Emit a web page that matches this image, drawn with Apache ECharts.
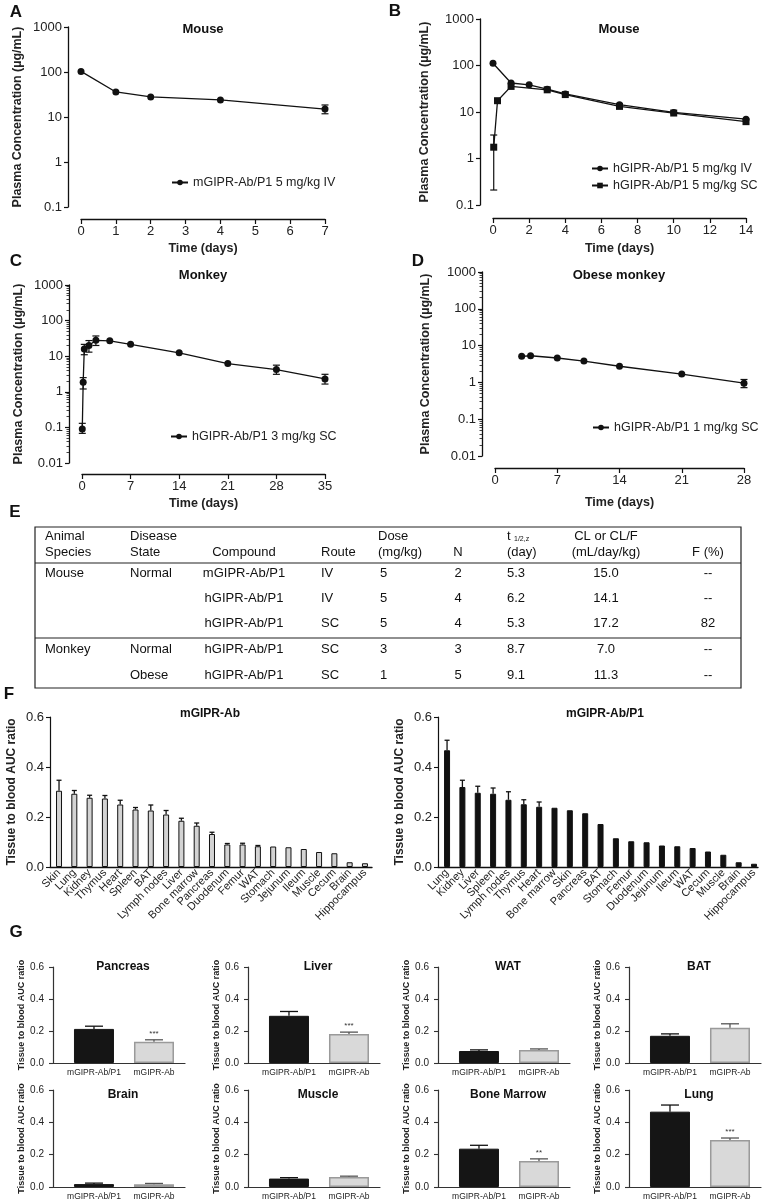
<!DOCTYPE html>
<html lang="en">
<head>
<meta charset="UTF-8">
<title>GIPR antibody PK and tissue distribution</title>
<script src="https://cdn.jsdelivr.net/npm/echarts@6/dist/echarts.min.js"></script>
<style>
    html, body { margin: 0; padding: 0; background: #fff; }
    #main { width: 776px; height: 1204px; }
</style>
</head>
<body>
<div id="main"></div>
<script>
    // ---------- data ----------
    // A  mouse, mGIPR-Ab/P1 5 mg/kg IV
    var aTime = [0, 1, 2, 4, 7];
    var aConc = [103, 36, 28, 24, 15];
    var aLow = [98, 34, 24.5, 22.5, 11.8];
    var aHigh = [108, 38, 32, 25.5, 18.5];

    // B  mouse, hGIPR-Ab/P1 5 mg/kg IV and SC
    var bIvTime = [0, 1, 2, 3, 4, 7, 10, 14];
    var bIvConc = [112, 42, 38.5, 31, 24.4, 14.4, 9.8, 7];
    var bIvLow = [108, 37, 36, 29, 23, 13, 9, 6.3];
    var bIvHigh = [116, 47, 41, 33, 26, 15.8, 10.6, 7.6];
    var bScTime = [0.04, 0.25, 1, 3, 4, 7, 10, 14];
    var bScConc = [1.75, 17.5, 35.5, 30, 23.7, 13.2, 9.5, 6.2];
    var bScLow = [0.21, 15.5, 31, 28, 22.5, 12, 9, 5.5];
    var bScHigh = [3.2, 19.5, 40, 32, 25, 14.4, 10, 7];

    // C  monkey, hGIPR-Ab/P1 3 mg/kg SC
    var cTime = [0.04, 0.17, 0.33, 1, 2, 4, 7, 14, 21, 28, 35];
    var cConc = [0.09, 1.85, 16, 20, 28, 27, 21.5, 12.4, 6.2, 4.2, 2.3];
    var cLow = [0.068, 1.2, 11, 13, 20, 25, 20, 10.4, 5.6, 3.1, 1.65];
    var cHigh = [0.13, 2.5, 21.5, 27.5, 37, 29, 23, 14.7, 6.8, 5.6, 3.1];

    // D  obese monkey, hGIPR-Ab/P1 1 mg/kg SC
    var dTime = [3, 4, 7, 10, 14, 21, 28];
    var dConc = [5.1, 5.3, 4.6, 3.8, 2.75, 1.68, 0.95];
    var dLow = [4.4, 4.5, 4.2, 3.5, 2.5, 1.38, 0.72];
    var dHigh = [5.9, 6.1, 5.0, 4.1, 3.0, 2.05, 1.2];

    // E  PK parameter table
    var tableHead1 = ['Animal', 'Disease', '', '', 'Dose', '', 't', 'CL or CL/F', ''];
    var tableHead2 = ['Species', 'State', 'Compound', 'Route', '(mg/kg)', 'N', '(day)', '(mL/day/kg)', 'F (%)'];
    var tableRows = [
        ['Mouse', 'Normal', 'mGIPR-Ab/P1', 'IV', '5', '2', '5.3', '15.0', '--'],
        ['', '', 'hGIPR-Ab/P1', 'IV', '5', '4', '6.2', '14.1', '--'],
        ['', '', 'hGIPR-Ab/P1', 'SC', '5', '4', '5.3', '17.2', '82'],
        ['Monkey', 'Normal', 'hGIPR-Ab/P1', 'SC', '3', '3', '8.7', '7.0', '--'],
        ['', 'Obese', 'hGIPR-Ab/P1', 'SC', '1', '5', '9.1', '11.3', '--']
    ];

    // F  tissue to blood AUC ratio
    var flTissues = ['Skin', 'Lung', 'Kidney', 'Thymus', 'Heart', 'Spleen', 'BAT', 'Lymph nodes', 'Liver',
        'Bone marrow', 'Pancreas', 'Duodenum', 'Femur', 'WAT', 'Stomach', 'Jejunum', 'Ileum', 'Muscle',
        'Cecum', 'Brain', 'Hippocampus'];
    var flRatio = [0.305, 0.293, 0.277, 0.274, 0.25, 0.23, 0.226, 0.21, 0.185, 0.165, 0.132, 0.09, 0.09,
        0.083, 0.082, 0.079, 0.072, 0.06, 0.055, 0.019, 0.015];
    var flErr = [0.042, 0.013, 0.01, 0.012, 0.017, 0.008, 0.022, 0.016, 0.01, 0.011, 0.007, 0.004, 0.005,
        0.003, 0, 0, 0, 0, 0, 0, 0];
    var frTissues = ['Lung', 'Kidney', 'Liver', 'Spleen', 'Lymph nodes', 'Thymus', 'Heart', 'Bone marrow',
        'Skin', 'Pancreas', 'BAT', 'Stomach', 'Femur', 'Duodenum', 'Jejunum', 'Ileum', 'WAT', 'Cecum',
        'Muscle', 'Brain', 'Hippocampus'];
    var frRatio = [0.467, 0.32, 0.297, 0.293, 0.269, 0.251, 0.241, 0.237, 0.227, 0.215, 0.172, 0.115, 0.103,
        0.099, 0.086, 0.083, 0.076, 0.062, 0.049, 0.019, 0.013];
    var frErr = [0.04, 0.027, 0.026, 0.023, 0.032, 0.018, 0.019, 0, 0, 0, 0, 0, 0, 0, 0, 0, 0, 0, 0, 0, 0];

    // G  per tissue comparison
    var gTissues = ['Pancreas', 'Liver', 'WAT', 'BAT', 'Brain', 'Muscle', 'Bone Marrow', 'Lung'];
    var gGroups = ['mGIPR-Ab/P1', 'mGIPR-Ab'];
    var gP1 = [0.213, 0.295, 0.075, 0.17, 0.018, 0.052, 0.237, 0.466];
    var gP1Err = [0.017, 0.027, 0.007, 0.012, 0.006, 0.006, 0.021, 0.041];
    var gAb = [0.133, 0.182, 0.082, 0.22, 0.017, 0.062, 0.161, 0.29];
    var gAbErr = [0.012, 0.011, 0.006, 0.025, 0.005, 0.005, 0.013, 0.013];
    var gSig = ['***', '***', '', '', '', '', '**', '***'];

    // ---------- helpers ----------
    var FONT = 'Arial, "Liberation Sans", sans-serif';
    var INK = '#111';

    function pairs(xs, ys) {
        return xs.map(function (x, i) { return [x, ys[i]]; });
    }
    function triples(xs, lo, hi) {
        return xs.map(function (x, i) { return [x, lo[i], hi[i]]; });
    }

    // two sided error bar, hidden when it is covered by the marker
    function errBoth(params, api) {
        var x = api.value(0);
        var p1 = api.coord([x, api.value(1)]);
        var p2 = api.coord([x, api.value(2)]);
        if (Math.abs(p1[1] - p2[1]) < 8) return;
        var st = { stroke: INK, lineWidth: 1.2 };
        var c = 3.5;
        return {
            type: 'group',
            children: [
                { type: 'line', shape: { x1: p1[0], y1: p1[1], x2: p2[0], y2: p2[1] }, style: st },
                { type: 'line', shape: { x1: p1[0] - c, y1: p1[1], x2: p1[0] + c, y2: p1[1] }, style: st },
                { type: 'line', shape: { x1: p2[0] - c, y1: p2[1], x2: p2[0] + c, y2: p2[1] }, style: st }
            ]
        };
    }

    // upward error bar for bar charts (GraphPad "above" style)
    function errUp(cap, colors, sig) {
        return function (params, api) {
            var x = api.value(0);
            var p1 = api.coord([x, api.value(1)]);
            var p2 = api.coord([x, api.value(2)]);
            var col = colors[params.dataIndex] || INK;
            var st = { stroke: col, lineWidth: 1.3 };
            var kids = [];
            if (p1[1] - p2[1] > 0.5) {
                kids.push({ type: 'line', shape: { x1: p1[0], y1: p1[1], x2: p2[0], y2: p2[1] }, style: st });
                kids.push({ type: 'line', shape: { x1: p2[0] - cap, y1: p2[1], x2: p2[0] + cap, y2: p2[1] }, style: st });
            }
            if (sig && sig[params.dataIndex]) {
                kids.push({
                    type: 'text',
                    style: {
                        text: sig[params.dataIndex], x: p2[0], y: p2[1] - 2,
                        align: 'center', verticalAlign: 'bottom',
                        textAlign: 'center', textVerticalAlign: 'bottom',
                        font: '8px ' + FONT, fill: '#333'
                    }
                });
            }
            return { type: 'group', children: kids };
        };
    }

    function logFmt(v) { return String(+(+v).toPrecision(2)); }

    var lineAxis = { show: true, onZero: false, lineStyle: { color: INK, width: 1.3 } };
    var tickOut = { show: true, length: 4, lineStyle: { color: INK, width: 1.2 } };

    function logY(gi, min, max, gap, minor) {
        return {
            gridIndex: gi, type: 'log', logBase: 10, min: min, max: max, offset: 13,
            axisLine: lineAxis, axisTick: tickOut, splitLine: { show: false },
            minorTick: { show: !!minor, splitNumber: 9, length: 2.5, lineStyle: { color: INK, width: 0.8 } },
            axisLabel: { formatter: logFmt, fontSize: 13, color: '#222', fontFamily: FONT, margin: 6 },
            name: 'Plasma Concentration (µg/mL)', nameLocation: 'middle', nameGap: gap,
            nameTextStyle: { fontSize: 12.5, fontWeight: 'bold', color: '#222', fontFamily: FONT }
        };
    }
    function timeX(gi, max, interval, offset, gap) {
        return {
            gridIndex: gi, type: 'value', min: 0, max: max, interval: interval, offset: offset,
            axisLine: lineAxis, axisTick: { show: true, length: 5, lineStyle: { color: INK, width: 1.2 } },
            splitLine: { show: false },
            axisLabel: { fontSize: 13, color: '#222', fontFamily: FONT, margin: 6 },
            name: 'Time (days)', nameLocation: 'middle', nameGap: gap,
            nameTextStyle: { fontSize: 12.5, fontWeight: 'bold', color: '#222', fontFamily: FONT }
        };
    }
    function ratioY(gi, fontSize, nameSize, gap, margin, color) {
        return {
            gridIndex: gi, type: 'value', min: 0, max: 0.6, interval: 0.2,
            axisLine: { show: true, onZero: false, lineStyle: { color: color, width: 1.2 } },
            axisTick: { show: true, length: 4, lineStyle: { color: color, width: 1.1 } },
            splitLine: { show: false },
            axisLabel: { formatter: function (v) { return v.toFixed(1); }, fontSize: fontSize, color: '#222', fontFamily: FONT, margin: margin },
            name: 'Tissue to blood AUC ratio', nameLocation: 'middle', nameGap: gap,
            nameTextStyle: { fontSize: nameSize, fontWeight: 'bold', color: '#222', fontFamily: FONT }
        };
    }
    function tissueX(gi, names, min, max) {
        return {
            gridIndex: gi, type: 'value', min: min, max: max,
            axisLine: { show: true, onZero: false, lineStyle: { color: INK, width: 1.4 } },
            axisTick: { show: false }, splitLine: { show: false },
            axisLabel: {
                customValues: names.map(function (n, i) { return i; }),
                formatter: function (v) { return names[Math.round(v)]; },
                rotate: 45, fontSize: 11, color: '#222', fontFamily: FONT, margin: 4
            }
        };
    }

    // ---------- layout ----------
    var grids = [
        { left: 81, top: 27, width: 244, height: 180 },   // A
        { left: 493, top: 19, width: 253, height: 186 },  // B
        { left: 82, top: 285, width: 243, height: 178 },  // C
        { left: 495, top: 272, width: 249, height: 184 }, // D
        { left: 50, top: 717, width: 322, height: 150 },  // F left
        { left: 438, top: 717, width: 320, height: 150 }  // F right
    ];
    var gCols = [53, 248, 438, 629];
    var gRows = [[967, 96], [1090, 97]];
    gTissues.forEach(function (t, i) {
        var r = gRows[Math.floor(i / 4)];
        grids.push({ left: gCols[i % 4], top: r[0], width: 132, height: r[1] });
    });

    var xAxes = [
        timeX(0, 7, 1, 12, 23),
        timeX(1, 14, 2, 13, 24),
        timeX(2, 35, 7, 11, 23),
        timeX(3, 28, 7, 12, 28),
        tissueX(4, flTissues, -0.59, 20.46),
        tissueX(5, frTissues, -0.59, 20.26)
    ];
    var yAxes = [
        logY(0, 0.1, 1000, 44, false),
        logY(1, 0.1, 1000, 49, false),
        logY(2, 0.01, 1000, 44, true),
        logY(3, 0.01, 1000, 50, true),
        ratioY(4, 13, 12, 32, 6, INK),
        ratioY(5, 13, 12, 32, 6, INK)
    ];
    gTissues.forEach(function (t, i) {
        xAxes.push({
            gridIndex: 6 + i, type: 'value', min: -0.683, max: 1.517,
            axisLine: { show: true, onZero: false, lineStyle: { color: '#333', width: 1.2 } },
            axisTick: { show: false }, splitLine: { show: false },
            axisLabel: {
                customValues: [0, 1],
                formatter: function (v) { return gGroups[Math.round(v)]; },
                fontSize: 8.5, color: '#222', fontFamily: FONT, margin: 5
            }
        });
        yAxes.push(ratioY(6 + i, 10, 9, 24, 9, '#333'));
    });

    // ---------- series ----------
    var lineStyle = { color: INK, width: 1.3 };
    function pkLine(name, gi, xs, ys, symbol) {
        return {
            name: name, type: 'line', xAxisIndex: gi, yAxisIndex: gi, data: pairs(xs, ys),
            symbol: symbol || 'circle', symbolSize: 7, showSymbol: true,
            lineStyle: lineStyle, itemStyle: { color: INK }, z: 3
        };
    }
    function pkErr(gi, xs, lo, hi) {
        return {
            type: 'custom', xAxisIndex: gi, yAxisIndex: gi, data: triples(xs, lo, hi),
            encode: { x: 0, y: [1, 2] }, renderItem: errBoth, z: 2
        };
    }

    var series = [
        pkLine('mGIPR-Ab/P1 5 mg/kg IV', 0, aTime, aConc),
        pkErr(0, aTime, aLow, aHigh),
        pkLine('hGIPR-Ab/P1 5 mg/kg IV', 1, bIvTime, bIvConc),
        pkErr(1, bIvTime, bIvLow, bIvHigh),
        pkLine('hGIPR-Ab/P1 5 mg/kg SC', 1, bScTime, bScConc, 'rect'),
        pkErr(1, bScTime, bScLow, bScHigh),
        pkLine('hGIPR-Ab/P1 3 mg/kg SC', 2, cTime, cConc),
        pkErr(2, cTime, cLow, cHigh),
        pkLine('hGIPR-Ab/P1 1 mg/kg SC', 3, dTime, dConc),
        pkErr(3, dTime, dLow, dHigh)
    ];

    function tissueBars(gi, vals, errs, fill) {
        var idx = vals.map(function (v, i) { return i; });
        series.push({
            type: 'bar', xAxisIndex: gi, yAxisIndex: gi, barWidth: 6,
            data: pairs(idx, vals),
            itemStyle: { color: fill, borderColor: INK, borderWidth: 1 }
        });
        series.push({
            type: 'custom', xAxisIndex: gi, yAxisIndex: gi,
            data: idx.map(function (i) { return [i, vals[i], vals[i] + errs[i]]; }),
            encode: { x: 0, y: [1, 2] }, renderItem: errUp(2.5, []), z: 3
        });
    }
    tissueBars(4, flRatio, flErr, '#d3d3d3');
    tissueBars(5, frRatio, frErr, '#111');

    gTissues.forEach(function (t, i) {
        var gi = 6 + i;
        series.push({
            type: 'bar', xAxisIndex: gi, yAxisIndex: gi, barWidth: 40,
            data: [
                { value: [0, gP1[i]], itemStyle: { color: '#151515', borderColor: '#151515', borderWidth: 1 } },
                { value: [1, gAb[i]], itemStyle: { color: '#d9d9d9', borderColor: '#9a9a9a', borderWidth: 1.5 } }
            ]
        });
        series.push({
            type: 'custom', xAxisIndex: gi, yAxisIndex: gi,
            data: [[0, gP1[i], gP1[i] + gP1Err[i]], [1, gAb[i], gAb[i] + gAbErr[i]]],
            encode: { x: 0, y: [1, 2] },
            renderItem: errUp(9, ['#111', '#555'], ['', gSig[i]]), z: 3
        });
    });

    // ---------- text: panel letters, titles, table ----------
    var gfx = [];
    function txt(s, x, y, font, align) {
        gfx.push({
            type: 'text', x: x, y: y,
            style: {
                text: s, font: font, fill: '#111',
                align: align || 'center', verticalAlign: 'middle',
                textAlign: align || 'center', textVerticalAlign: 'middle'
            }
        });
    }
    function hline(x1, x2, y) {
        gfx.push({ type: 'line', shape: { x1: x1, y1: y, x2: x2, y2: y }, style: { stroke: '#222', lineWidth: 1.2 } });
    }

    var letterFont = 'bold 17px ' + FONT;
    txt('A', 16, 12, letterFont);
    txt('B', 395, 11, letterFont);
    txt('C', 16, 261, letterFont);
    txt('D', 418, 261, letterFont);
    txt('E', 15, 512, letterFont);
    txt('F', 9, 694, letterFont);
    txt('G', 16, 932, letterFont);

    var titleFont = 'bold 13px ' + FONT;
    txt('Mouse', 203, 29, titleFont);
    txt('Mouse', 619, 29, titleFont);
    txt('Monkey', 203, 275, titleFont);
    txt('Obese monkey', 619, 275, titleFont);
    txt('mGIPR-Ab', 210, 714, 'bold 12px ' + FONT);
    txt('mGIPR-Ab/P1', 605, 714, 'bold 12px ' + FONT);
    gTissues.forEach(function (t, i) {
        var cy = i < 4 ? 967 : 1095;
        txt(t, gCols[i % 4] + 70, cy, 'bold 12px ' + FONT);
    });

    // table E
    var tLeft = 35, tRight = 741, tTop = 527, tBottom = 688;
    gfx.push({
        type: 'rect', shape: { x: tLeft, y: tTop, width: tRight - tLeft, height: tBottom - tTop },
        style: { fill: 'none', stroke: '#222', lineWidth: 1.2 }
    });
    hline(tLeft, tRight, 563);
    hline(tLeft, tRight, 638);
    var colX = [45, 130, 244, 321, 378, 458, 507, 606, 708];
    var colAlign = ['left', 'left', 'center', 'left', 'left', 'center', 'left', 'center', 'center'];
    var rowY = [573, 598, 623, 649, 675];
    var cellFont = '13px ' + FONT;
    tableHead1.forEach(function (s, c) { if (s) txt(s, colX[c], 536, cellFont, colAlign[c]); });
    txt('1/2,z', colX[6] + 7, 539, '7px ' + FONT, 'left');
    tableHead2.forEach(function (s, c) { txt(s, colX[c], 552, cellFont, colAlign[c]); });
    tableRows.forEach(function (row, r) {
        row.forEach(function (s, c) {
            if (s) txt(s, c === 4 ? colX[c] + 2 : colX[c], rowY[r], cellFont, colAlign[c]);
        });
    });

    // ---------- legends ----------
    function legendAt(names, left, top) {
        return {
            data: names, left: left, top: top, orient: 'vertical', padding: 0, itemGap: 4,
            itemWidth: 16, itemHeight: 7, selectedMode: false,
            textStyle: { fontSize: 12.5, color: '#222', fontFamily: FONT }
        };
    }

    var option = {
        animation: false,
        backgroundColor: '#fff',
        textStyle: { fontFamily: FONT },
        grid: grids,
        xAxis: xAxes,
        yAxis: yAxes,
        legend: [
            legendAt(['mGIPR-Ab/P1 5 mg/kg IV'], 171, 176),
            legendAt(['hGIPR-Ab/P1 5 mg/kg IV', 'hGIPR-Ab/P1 5 mg/kg SC'], 591, 162),
            legendAt(['hGIPR-Ab/P1 3 mg/kg SC'], 170, 430),
            legendAt(['hGIPR-Ab/P1 1 mg/kg SC'], 592, 421)
        ],
        graphic: { elements: gfx },
        series: series
    };

    var chart = echarts.init(document.getElementById('main'));
    chart.setOption(option);
</script>
</body>
</html>
